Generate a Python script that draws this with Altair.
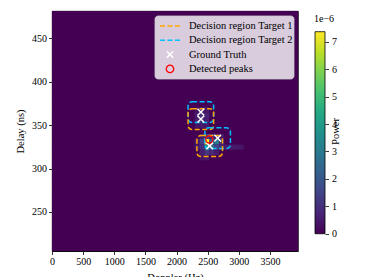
import altair as alt
import numpy as np
import pandas as pd

# ---------------- data ----------------
doppler_max = 3950.0
delay_min, delay_max = 205.0, 481.5
n_doppler, n_delay = 50, 45
x_ticks = [0, 500, 1000, 1500, 2000, 2500, 3000, 3500]
y_ticks = [250, 300, 350, 400, 450]

# non-zero power cells (doppler bin, delay bin, power in 1e-6)
cell_i = [31, 31, 32, 32, 33, 33, 30, 30, 31, 32, 31, 32, 33, 34, 34, 35, 36, 37, 38,
          29, 29, 30, 31, 30, 33, 34, 30,
          30, 30, 29, 29, 31, 31, 30, 30, 29, 31, 29, 31]
cell_j = [20, 19, 19, 20, 20, 19, 20, 19, 21, 21, 18, 18, 21, 20, 19, 19, 19, 19, 19,
          19, 20, 18, 17, 17, 18, 21, 21,
          24, 25, 24, 25, 24, 25, 26, 23, 26, 26, 23, 23]
cell_power = [7.37, 3.9, 2.6, 2.2, 3.0, 1.5, 1.3, 1.0, 1.4, 0.9, 1.2, 0.8, 0.7, 0.9, 0.8, 0.6, 0.5, 0.45, 0.4,
              0.5, 0.5, 0.6, 0.5, 0.4, 0.5, 0.4, 0.6,
              0.9, 1.0, 0.6, 0.6, 0.6, 0.7, 0.5, 0.5, 0.35, 0.4, 0.35, 0.4]
power_max = 7.37
cbar_ticks = [0, 1, 2, 3, 4, 5, 6, 7]

series = ["Decision region Target 1", "Decision region Target 2", "Ground Truth", "Detected peaks"]
series_colors = ["#ffa500", "#00bfff", "#ffffff", "#ff0000"]

gt_doppler = [2390, 2390, 2660, 2532]
gt_delay = [365, 357, 335, 326]
gt_target = [2, 1, 2, 1]
region_half_doppler = 205
region_half_delay = 12

peak_doppler = [2525]
peak_delay = [333.5]

# viridis colormap stops (style)
viridis_stops = ["#440154", "#482475", "#414487", "#355f8d", "#2a788e", "#21918c",
                 "#22a884", "#44bf70", "#7ad151", "#bddf26", "#fde725"]

# ---------------- tables ----------------
d_step = doppler_max / n_doppler
t_step = (delay_max - delay_min) / n_delay
P = np.zeros((n_doppler, n_delay))
for i, j, p in zip(cell_i, cell_j, cell_power):
    P[i, j] = p
ii, jj = np.meshgrid(np.arange(n_doppler), np.arange(n_delay), indexing="ij")
ii, jj = ii.ravel(), jj.ravel()
grid = pd.DataFrame({
    "d0": ii * d_step, "d1": (ii + 1) * d_step,
    "t0": delay_min + jj * t_step, "t1": delay_min + (jj + 1) * t_step,
    "power": P.ravel(),
})

box_df = pd.DataFrame({
    "series": [series[t - 1] for t in gt_target],
    "d0": [d - region_half_doppler for d in gt_doppler],
    "d1": [d + region_half_doppler for d in gt_doppler],
    "t0": [t - region_half_delay for t in gt_delay],
    "t1": [t + region_half_delay for t in gt_delay],
})
gt_df = pd.DataFrame({"doppler": gt_doppler, "delay": gt_delay})
peak_df = pd.DataFrame({"doppler": peak_doppler, "delay": peak_delay})
cbar_frame = pd.DataFrame({"lo": [0.0], "hi": [power_max]})

# ---------------- styles ----------------
FONT = "Liberation Serif"
DASH = [5, 2.5]
X_SHAPE = "M-1,-1L1,1M-1,1L1,-1"
x_scale = alt.Scale(domain=[0, doppler_max], nice=False, zero=False)
y_scale = alt.Scale(domain=[delay_min, delay_max], nice=False, zero=False)
color_scale = alt.Scale(scheme="viridis", domain=[0, power_max])
stroke_scale = alt.Scale(domain=series, range=series_colors)

x_axis = alt.Axis(values=x_ticks, format="d", labelOverlap=False, title="Doppler (Hz)")
y_axis = alt.Axis(values=y_ticks, format="d", labelOverlap=False, title="Delay (ns)")

# ---------------- main panel ----------------
heat = alt.Chart(grid).mark_rect(strokeWidth=0).encode(
    x=alt.X("d0:Q", scale=x_scale, axis=x_axis),
    x2="d1",
    y=alt.Y("t0:Q", scale=y_scale, axis=y_axis),
    y2="t1",
    color=alt.Color("power:Q", scale=color_scale, legend=None),
)

boxes = alt.Chart(box_df).mark_rect(filled=False, strokeWidth=1.5, cornerRadius=4,
                                    strokeDash=DASH).encode(
    x=alt.X("d0:Q", axis=x_axis), x2="d1", y=alt.Y("t0:Q", axis=y_axis), y2="t1",
    stroke=alt.Stroke("series:N", scale=stroke_scale, legend=None),
)

gt = alt.Chart(gt_df).mark_point(shape=X_SHAPE, filled=False, size=45, strokeWidth=1.5,
                                 stroke=series_colors[2], opacity=1).encode(
    x=alt.X("doppler:Q", axis=x_axis), y=alt.Y("delay:Q", axis=y_axis),
)

peaks = alt.Chart(peak_df).mark_point(shape="circle", filled=False, size=50, strokeWidth=1.3,
                                      stroke=series_colors[3], opacity=1).encode(
    x=alt.X("doppler:Q", axis=x_axis), y=alt.Y("delay:Q", axis=y_axis),
)

# ---------------- legend (drawn in pixel space of the plot) ----------------
leg_left, leg_right, leg_top, leg_bottom = 103, 242, 5, 68
row0, row_step = 15, 14.3
handle_x0, handle_x1, marker_x, label_x = 108, 129, 118, 137

one = pd.DataFrame({"a": [0]})
leg_layers = [
    alt.Chart(one).mark_rect(
        fill="white", fillOpacity=0.8, stroke="#cccccc", strokeWidth=0.8, cornerRadius=3
    ).encode(x=alt.value(leg_left), x2=alt.value(leg_right),
             y=alt.value(leg_top), y2=alt.value(leg_bottom))
]
for k in range(2):
    leg_layers.append(
        alt.Chart(one).mark_rule(
            strokeDash=DASH, strokeWidth=1.5, color=series_colors[k]
        ).encode(x=alt.value(handle_x0), x2=alt.value(handle_x1), y=alt.value(row0 + k * row_step))
    )
leg_layers.append(
    alt.Chart(one).mark_point(
        shape=X_SHAPE, filled=False, size=40, strokeWidth=1.5, stroke=series_colors[2], opacity=1
    ).encode(x=alt.value(marker_x), y=alt.value(row0 + 2 * row_step))
)
leg_layers.append(
    alt.Chart(one).mark_point(
        shape="circle", filled=False, size=55, strokeWidth=1.3, stroke=series_colors[3], opacity=1
    ).encode(x=alt.value(marker_x), y=alt.value(row0 + 3 * row_step))
)
for k, lab in enumerate(series):
    leg_layers.append(
        alt.Chart(pd.DataFrame({"t": [lab]})).mark_text(
            align="left", baseline="middle", font=FONT, fontSize=10.5, color="black"
        ).encode(x=alt.value(label_x), y=alt.value(row0 + k * row_step), text="t:N")
    )

main = alt.layer(heat, boxes, gt, peaks, *leg_layers).properties(
    width=246, height=240,
    view=alt.ViewBackground(fill="#440154", stroke="black", strokeWidth=0.8),
)

# ---------------- colorbar ----------------
n_stops = len(viridis_stops)
cbar_gradient = alt.LinearGradient(
    gradient="linear",
    stops=[alt.GradientStop(offset=k / (n_stops - 1), color=c) for k, c in enumerate(viridis_stops)],
    x1=0, x2=0, y1=1, y2=0,
)
cb_y = alt.Scale(domain=[-0.63, 8.125], nice=False, zero=False)
cb_axis = alt.Axis(orient="right", values=cbar_ticks, format="d", labelOverlap=False, domain=False,
                   title="Power", titleAngle=270, titlePadding=4, labelPadding=3)
cbar_bar = alt.Chart(cbar_frame).mark_rect(fill=cbar_gradient, stroke="black", strokeWidth=0.8).encode(
    x=alt.value(0), x2=alt.value(10), y=alt.Y("lo:Q", scale=cb_y, axis=cb_axis), y2="hi",
)
cbar_text = alt.Chart(pd.DataFrame({"t": ["1e\u22126"]})).mark_text(
    align="left", baseline="middle", font=FONT, fontSize=10, color="black"
).encode(x=alt.value(-1), y=alt.value(8), text="t:N")

cbar = alt.layer(cbar_bar, cbar_text).properties(
    width=10, height=240,
    view=alt.ViewBackground(strokeOpacity=0),
)

chart = alt.hconcat(main, cbar, spacing=15).properties(
    padding={"left": 7, "top": 2, "right": 5, "bottom": 2}
).configure_axis(
    grid=False, labelFont=FONT, labelFontSize=10, labelColor="black",
    titleFont=FONT, titleFontSize=10.5, titleFontWeight="normal", titleColor="black",
    tickColor="black", tickSize=3.5, tickWidth=0.8, domainColor="black", domainWidth=0.8,
    labelPadding=2, titlePadding=6, labelOverlap=False, labelFlush=False,
)

chart.save("out.html", embed_options={"renderer": "svg", "actions": False})
